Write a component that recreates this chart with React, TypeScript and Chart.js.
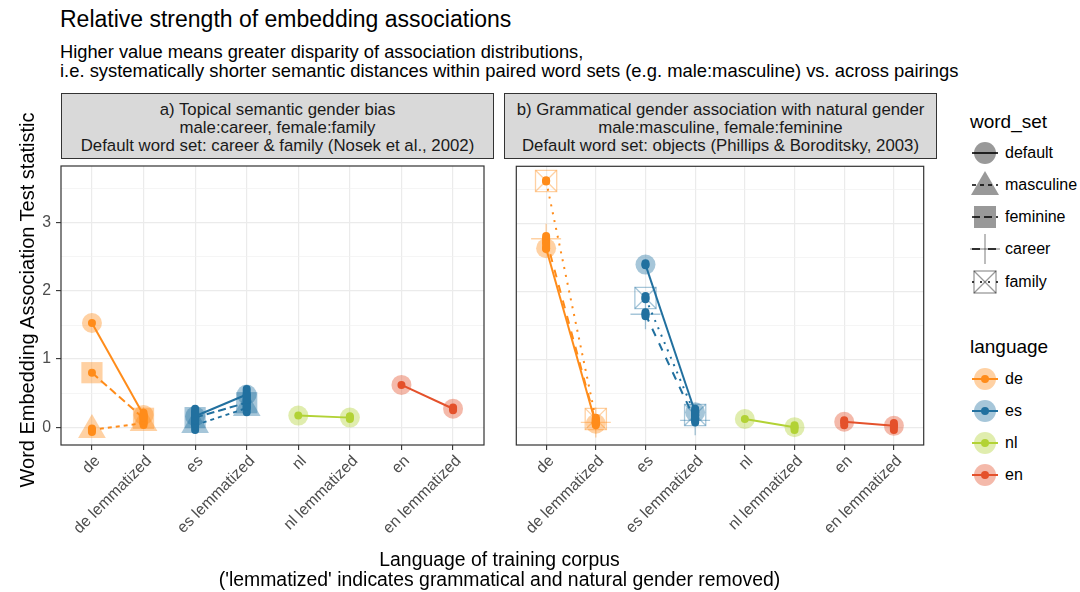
import React, { useEffect, useRef } from 'react';
import { Chart, registerables } from 'chart.js';
Chart.register(...registerables);

const FONT = '"Liberation Sans", Arial, Helvetica, sans-serif';
Chart.defaults.font.family = FONT;

const CATEGORIES = ['de', 'de lemmatized', 'es', 'es lemmatized', 'nl', 'nl lemmatized', 'en', 'en lemmatized'];
const Y_MAJOR = [0, 1, 2, 3];
const Y_MINOR = [0.5, 1.5, 2.5, 3.5];
const Y_MIN = -0.262;
const Y_MAX = 3.835;

const LANGUAGES = ['de', 'es', 'nl', 'en'];
const LANG_COLORS = ['#ff8c1a', '#21709f', '#b2d235', '#e4512b'];
const WORD_SETS = ['default', 'masculine', 'feminine', 'career', 'family'];
const SET_DASH: Record<string, number[]> = {
  default: [],
  masculine: [4, 4],
  feminine: [8, 4],
  career: [8, 8],
  family: [2, 6],
};

// Panel a) Topical semantic gender bias
const A_LANG = ['de', 'de', 'de', 'es', 'es', 'es', 'nl', 'en'];
const A_SET = ['default', 'feminine', 'masculine', 'default', 'feminine', 'masculine', 'default', 'default'];
const A_BASE = [1.53, 0.8, -0.04, 0.16, 0.14, 0.03, 0.17, 0.62];
const A_LEMM = [0.18, 0.13, 0.06, 0.48, 0.36, 0.28, 0.14, 0.27];
const A_BASE_LO = [1.53, 0.8, -0.07, 0.1, 0.05, -0.04, 0.17, 0.62];
const A_BASE_HI = [1.53, 0.8, -0.02, 0.27, 0.22, 0.1, 0.17, 0.62];
const A_LEMM_LO = [0.14, 0.09, 0.03, 0.4, 0.3, 0.22, 0.12, 0.25];
const A_LEMM_HI = [0.21, 0.16, 0.09, 0.56, 0.45, 0.34, 0.16, 0.29];

// Panel b) Grammatical gender association with natural gender
const B_LANG = ['de', 'de', 'de', 'es', 'es', 'es', 'nl', 'en'];
const B_SET = ['default', 'career', 'family', 'default', 'career', 'family', 'default', 'default'];
const B_BASE = [2.63, 2.77, 3.62, 2.39, 1.66, 1.9, 0.12, 0.08];
const B_LEMM = [0.05, 0.07, 0.12, 0.22, 0.1, 0.18, 0.0, 0.02];
const B_BASE_LO = [2.62, 2.72, 3.61, 2.38, 1.63, 1.88, 0.12, 0.03];
const B_BASE_HI = [2.7, 2.81, 3.63, 2.41, 1.69, 1.93, 0.12, 0.1];
const B_LEMM_LO = [0.03, 0.05, 0.09, 0.17, 0.07, 0.13, -0.04, -0.04];
const B_LEMM_HI = [0.08, 0.1, 0.14, 0.27, 0.14, 0.23, 0.03, 0.06];

const STRIP_A = ['a) Topical semantic gender bias', 'male:career, female:family', 'Default word set: career & family (Nosek et al., 2002)'];
const STRIP_B = ['b) Grammatical gender association with natural gender', 'male:masculine, female:feminine', 'Default word set: objects (Phillips & Boroditsky, 2003)'];

const TICK_FONT = 15.8;

function alpha(hex: string, a: number) {
  const n = parseInt(hex.slice(1), 16);
  return `rgba(${(n >> 16) & 255},${(n >> 8) & 255},${n & 255},${a})`;
}

function buildDatasets(LANG: string[], SET: string[], BASE: number[], LEMM: number[], BLO: number[], BHI: number[], LLO: number[], LHI: number[]) {
  const ds: any[] = [];
  for (let i = 0; i < LANG.length; i++) {
    const li = LANGUAGES.indexOf(LANG[i]);
    const col = LANG_COLORS[li];
    const light = alpha(col, 0.4);
    const xs = [li * 2, li * 2 + 1];
    const pts = [{ x: xs[0], y: BASE[i] }, { x: xs[1], y: LEMM[i] }];
    const set = SET[i];
    const base = { data: pts, showLine: false, order: 3, pointHoverRadius: 0 };
    if (set === 'default') ds.push({ ...base, pointStyle: 'circle', pointRadius: 10, pointBackgroundColor: light, pointBorderWidth: 0 });
    if (set === 'masculine') ds.push({ ...base, pointStyle: 'triangle', pointRadius: 16, pointBackgroundColor: light, pointBorderWidth: 0 });
    if (set === 'feminine') ds.push({ ...base, pointStyle: 'rect', pointRadius: 15, pointBackgroundColor: light, pointBorderWidth: 0 });
    if (set === 'career') ds.push({ ...base, pointStyle: 'cross', pointRadius: 15, pointBorderColor: light, pointBorderWidth: 1.3 });
    if (set === 'family') {
      ds.push({ ...base, pointStyle: 'rect', pointRadius: 15, pointBackgroundColor: 'rgba(0,0,0,0)', pointBorderColor: light, pointBorderWidth: 1.3 });
      ds.push({ ...base, pointStyle: 'crossRot', pointRadius: 15, pointBorderColor: light, pointBorderWidth: 1.3 });
    }
    ds.push({
      data: pts, showLine: true, order: 2, borderColor: col, borderWidth: 2, borderDash: SET_DASH[set],
      pointRadius: 4, pointBackgroundColor: col, pointBorderWidth: 0, pointHoverRadius: 4,
    });
    const lo = [BLO[i], LLO[i]];
    const hi = [BHI[i], LHI[i]];
    for (let k = 0; k < 2; k++) {
      if (hi[k] > lo[k]) {
        ds.push({
          data: [{ x: xs[k], y: lo[k] }, { x: xs[k], y: hi[k] }], showLine: true, order: 1,
          borderColor: col, borderWidth: 8, borderCapStyle: 'round', pointRadius: 0, pointHoverRadius: 0,
        });
      }
    }
  }
  return ds;
}

const framePlugin = {
  id: 'frame',
  afterDraw(chart: any) {
    const { ctx, chartArea: a } = chart;
    ctx.save();
    ctx.strokeStyle = '#333333';
    ctx.lineWidth = 1.2;
    ctx.strokeRect(a.left, a.top, a.right - a.left, a.bottom - a.top);
    // rotated category labels (45 degrees, right-justified at the tick)
    const sx = chart.scales.x;
    ctx.fillStyle = '#4d4d4d';
    ctx.font = `${TICK_FONT}px ${FONT}`;
    ctx.textAlign = 'right';
    ctx.textBaseline = 'top';
    sx.ticks.forEach((t: any) => {
      const px = sx.getPixelForValue(t.value);
      ctx.save();
      ctx.translate(px, a.bottom + 8);
      ctx.rotate(-Math.PI / 4);
      ctx.fillText(CATEGORIES[Math.round(t.value)], 0, 0);
      ctx.restore();
    });
    ctx.restore();
  },
};

const isMajor = (v: number) => Math.abs(v - Math.round(v)) < 1e-6;

function Panel(props: { left: number; top: number; width: number; height: number; showY: boolean; padRight: number; datasets: any[] }) {
  const ref = useRef<HTMLCanvasElement | null>(null);
  useEffect(() => {
    const chart = new Chart(ref.current as HTMLCanvasElement, {
      type: 'scatter',
      data: { datasets: props.datasets },
      plugins: [framePlugin],
      options: {
        animation: false,
        responsive: false,
        devicePixelRatio: 1,
        events: [],
        layout: { padding: { top: 9, right: props.padRight, left: 0, bottom: 0 } },
        plugins: { legend: { display: false }, tooltip: { enabled: false } },
        scales: {
          x: {
            type: 'linear',
            min: -0.6,
            max: 7.6,
            afterBuildTicks: (s: any) => { s.ticks = CATEGORIES.map((_, i) => ({ value: i })); },
            afterFit: (s: any) => { s.height = 105; s.paddingLeft = 0; s.paddingRight = 0; },
            ticks: { display: false },
            grid: { color: '#ebebeb', lineWidth: 1.2, tickColor: '#333333', tickLength: 5, tickWidth: 1.1 },
            border: { display: false },
          },
          y: {
            type: 'linear',
            min: Y_MIN,
            max: Y_MAX,
            afterBuildTicks: (s: any) => { s.ticks = [...Y_MAJOR, ...Y_MINOR].sort((a, b) => a - b).map((v) => ({ value: v })); },
            afterFit: (s: any) => { s.width = props.showY ? 61 : 4; },
            ticks: {
              display: props.showY,
              callback: (v: any) => (isMajor(Number(v)) ? String(v) : ''),
              padding: 5, color: '#4d4d4d', font: { size: TICK_FONT, family: FONT },
            },
            grid: {
              color: (c: any) => (isMajor(c.tick.value) ? '#ebebeb' : '#f0f0f0'),
              lineWidth: (c: any) => (isMajor(c.tick.value) ? 1.2 : 0.7),
              drawTicks: props.showY,
              tickColor: (c: any) => (isMajor(c.tick.value) ? '#333333' : 'rgba(0,0,0,0)'),
              tickLength: 5, tickWidth: 1.1,
            },
            border: { display: false },
          },
        },
      } as any,
    });
    return () => chart.destroy();
  }, []);
  return <canvas ref={ref} width={props.width} height={props.height} style={{ position: 'absolute', left: props.left, top: props.top, width: props.width, height: props.height }} />;
}

function Txt(props: { x: number; baseline: number; size: number; children: any; color?: string; align?: 'left' | 'center'; width?: number }) {
  const top = props.baseline - 0.8465 * props.size;
  const style: any = {
    position: 'absolute', top, fontSize: props.size, lineHeight: `${props.size}px`, fontFamily: FONT,
    color: props.color || '#000', whiteSpace: 'nowrap',
  };
  if (props.align === 'center') {
    style.left = props.x - (props.width || 600) / 2;
    style.width = props.width || 600;
    style.textAlign = 'center';
  } else {
    style.left = props.x;
  }
  return <div style={style}>{props.children}</div>;
}

function Strip(props: { left: number; width: number; lines: string[] }) {
  const baselines = [116.7, 134.5, 152.3];
  return (
    <>
      <div style={{ position: 'absolute', left: props.left, top: 93, width: props.width, height: 66, background: '#d9d9d9', border: '1.2px solid #333', boxSizing: 'border-box' }} />
      {props.lines.map((l, i) => (
        <Txt key={i} x={props.left + props.width / 2} baseline={baselines[i]} size={16.8} align="center" width={props.width} color="#1a1a1a">{l}</Txt>
      ))}
    </>
  );
}

function SetKey({ set }: { set: string }) {
  const g = 'rgba(0,0,0,0.4)';
  const dash = SET_DASH[set].join(' ');
  let shape: any = null;
  if (set === 'default') shape = <circle cx={15} cy={15} r={11} fill={g} />;
  if (set === 'masculine') shape = <polygon points="15,1 29,25 1,25" fill={g} />;
  if (set === 'feminine') shape = <rect x={4} y={4} width={22} height={22} fill={g} />;
  if (set === 'career') shape = <g stroke={g} strokeWidth={1.3}><line x1={0} y1={15} x2={30} y2={15} /><line x1={15} y1={0} x2={15} y2={30} /></g>;
  if (set === 'family') shape = <g stroke={g} strokeWidth={1.3} fill="none"><rect x={4} y={4} width={22} height={22} /><line x1={4} y1={4} x2={26} y2={26} /><line x1={26} y1={4} x2={4} y2={26} /></g>;
  return (
    <svg width={30} height={30} style={{ display: 'block' }}>
      {shape}
      <line x1={2} y1={15} x2={28} y2={15} stroke="#000" strokeWidth={1.6} strokeDasharray={dash || undefined} />
    </svg>
  );
}

function LangKey({ color }: { color: string }) {
  return (
    <svg width={30} height={30} style={{ display: 'block' }}>
      <circle cx={15} cy={15} r={11} fill={alpha(color, 0.4)} />
      <line x1={2} y1={15} x2={28} y2={15} stroke={color} strokeWidth={2} />
      <circle cx={15} cy={15} r={4} fill={color} />
    </svg>
  );
}

const SET_ROWS = [153, 185, 217, 249, 282];
const LANG_ROWS = [379, 411, 443, 475];

export default function App() {
  const dsA = buildDatasets(A_LANG, A_SET, A_BASE, A_LEMM, A_BASE_LO, A_BASE_HI, A_LEMM_LO, A_LEMM_HI);
  const dsB = buildDatasets(B_LANG, B_SET, B_BASE, B_LEMM, B_BASE_LO, B_BASE_HI, B_LEMM_LO, B_LEMM_HI);
  return (
    <div style={{ position: 'fixed', left: 0, top: 0, width: 1080, height: 592, background: '#fff', overflow: 'hidden' }}>
      <Txt x={60} baseline={27} size={23}>Relative strength of embedding associations</Txt>
      <Txt x={60} baseline={58.3} size={18.3}>Higher value means greater disparity of association distributions,</Txt>
      <Txt x={60} baseline={77.5} size={18.4}>i.e. systematically shorter semantic distances within paired word sets (e.g. male:masculine) vs. across pairings</Txt>

      <Strip left={61} width={433} lines={STRIP_A} />
      <Strip left={504} width={433} lines={STRIP_B} />

      <Panel left={0} top={150} width={500} height={400} showY={true} padRight={6} datasets={dsA} />
      <Panel left={500} top={150} width={440} height={400} showY={false} padRight={3} datasets={dsB} />

      <div style={{ position: 'absolute', left: 26.9 - 300, top: 300 - 10, width: 600, height: 20, lineHeight: '20px', fontSize: 20, fontFamily: FONT, textAlign: 'center', transform: 'rotate(-90deg)', whiteSpace: 'nowrap' }}>
        Word Embedding Association Test statistic
      </div>

      <Txt x={499.5} baseline={566.7} size={19.4} align="center" width={800}>Language of training corpus</Txt>
      <Txt x={499.5} baseline={586.5} size={19.4} align="center" width={800}>('lemmatized' indicates grammatical and natural gender removed)</Txt>

      <Txt x={970} baseline={128} size={19}>word_set</Txt>
      {WORD_SETS.map((s, i) => (
        <React.Fragment key={s}>
          <div style={{ position: 'absolute', left: 970, top: SET_ROWS[i] - 15 }}><SetKey set={s} /></div>
          <Txt x={1005} baseline={SET_ROWS[i] + 5.5} size={16}>{s}</Txt>
        </React.Fragment>
      ))}
      <Txt x={970} baseline={353} size={19}>language</Txt>
      {LANGUAGES.map((l, i) => (
        <React.Fragment key={l}>
          <div style={{ position: 'absolute', left: 970, top: LANG_ROWS[i] - 15 }}><LangKey color={LANG_COLORS[i]} /></div>
          <Txt x={1005} baseline={LANG_ROWS[i] + 5.5} size={16}>{l}</Txt>
        </React.Fragment>
      ))}
    </div>
  );
}
